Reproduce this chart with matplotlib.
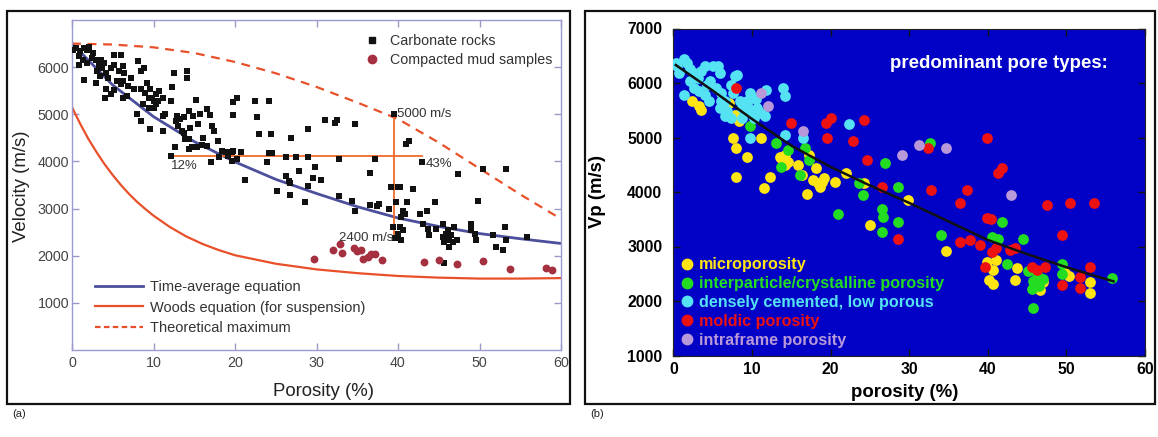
import matplotlib
matplotlib.use('Agg')
import matplotlib.pyplot as plt
from matplotlib.patches import Rectangle
from matplotlib.lines import Line2D

plt.rcParams['font.family'] = ['Liberation Sans', 'DejaVu Sans']

W, H = 1158, 437

# ---------------- panel (a): velocity vs porosity, model curves ----------------
ta_phi = [0, 5, 10, 15, 20, 25, 30, 35, 40, 45, 50, 55, 60]
ta_vel = [6500, 5620, 4950, 4420, 3990, 3620, 3320, 3040, 2800, 2620, 2470, 2360, 2260]

woods_phi = [0, 1, 2, 3, 4, 5, 6, 7, 8, 9, 10, 12, 14, 16, 18, 20, 25, 30, 35, 40, 45, 50, 55, 60]
woods_vel = [5150, 4800, 4480, 4200, 3940, 3710, 3500, 3310, 3140, 2990, 2850, 2610, 2410, 2250,
             2120, 2010, 1830, 1710, 1630, 1570, 1535, 1515, 1515, 1525]

tmax_phi = [0, 5, 10, 15, 20, 25, 30, 35, 40, 45, 50, 55, 60]
tmax_vel = [6500, 6480, 6420, 6300, 6110, 5870, 5580, 5250, 4900, 4400, 3850, 3300, 2780]

carb_phi = [0.1, 0.5, 1.0, 1.5, 1.8, 2.1, 0.9, 1.3, 0.8, 1.9, 2.4, 2.6, 2.9, 3.3, 3.5, 3.7, 3.9,
            3.1, 3.4, 4.2, 4.4, 4.8, 5.1, 5.2, 5.8, 6.2, 6.4, 6.0, 5.5, 6.0, 5.1, 4.2, 3.0, 1.5,
            4.0, 4.8, 6.2, 6.7, 6.2, 6.9, 7.3, 7.6, 8.1, 8.5, 8.8, 9.2, 8.5, 8.9, 9.4, 9.6, 9.8,
            10.1, 10.3, 10.3, 10.1, 10.5, 10.7, 11.2, 11.4, 11.2, 9.4, 8.7, 8.0, 8.5, 9.6, 11.2,
            12.5, 12.3, 12.2, 14.1, 14.1, 15.2, 14.4, 14.8, 15.7, 16.6, 16.9, 17.2, 17.4, 16.1,
            15.5, 14.5, 13.7, 13.2, 12.9, 13.0, 13.5, 12.6, 13.9, 14.4, 14.7, 13.8, 12.8, 12.1,
            14.4, 15.3, 15.9, 16.6, 17.1, 17.9, 18.4, 18.0, 18.9, 19.1, 19.6, 19.8, 20.3, 19.6,
            20.7, 21.2, 19.7, 20.3, 19.7, 22.5, 22.7, 23.0, 24.2, 24.4, 24.2, 23.9, 24.5, 25.2,
            26.3, 26.3, 26.6, 26.8, 26.8, 26.9, 27.5, 27.9, 28.6, 28.9, 29.0, 29.0, 29.6, 29.8,
            30.6, 31.1, 32.3, 32.5, 32.7, 32.8, 34.7, 34.4, 34.7, 36.6, 36.6, 37.2, 37.4, 37.7,
            38.9, 39.2, 39.4, 39.5, 39.6, 40.0, 39.8, 40.2, 40.4, 40.6, 40.4, 40.9, 41.1, 40.2,
            40.0, 40.6, 41.0, 41.3, 41.9, 42.7, 42.9, 43.1, 43.6, 43.8, 43.7, 44.6, 44.7, 45.5,
            45.5, 45.6, 45.9, 46.1, 46.2, 46.3, 46.5, 46.8, 46.9, 47.2, 47.4, 49.0, 49.0, 49.5,
            49.6, 49.8, 50.4, 51.7, 52.0, 52.9, 53.1, 53.3, 53.2, 55.8, 45.6]
carb_vel = [6373, 6408, 6338, 6408, 6373, 6422, 6232, 6162, 6056, 6092, 6197, 6303, 6141, 6056,
            6162, 5986, 6092, 5916, 5810, 5880, 5775, 5986, 6056, 6268, 5916, 6021, 5880, 6268,
            5704, 5634, 5507, 5528, 5669, 5725, 5352, 5423, 5704, 5388, 5352, 5599, 5775, 5528,
            6127, 5916, 5986, 5669, 5528, 5458, 5352, 5528, 5352, 5282, 5423, 5211, 5141, 5282,
            5493, 5352, 5000, 4965, 5141, 5211, 5000, 4860, 4683, 4648, 5880, 5578, 5282, 5916,
            5775, 5296, 5071, 4965, 5000, 5106, 4979, 4754, 4648, 4493, 4789, 4719, 4613, 4895,
            4965, 4754, 4648, 4296, 4486, 4486, 4296, 4944, 4860, 4106, 4261, 4296, 4353, 4332,
            3980, 4437, 4226, 4085, 4191, 4120, 4191, 4226, 4050, 4001, 4191, 3613, 5261, 5352,
            4979, 5282, 4944, 4578, 5282, 4578, 4177, 3980, 4170, 3381, 4085, 3698, 3592, 3536,
            3290, 4493, 4085, 3789, 3135, 3473, 4683, 4085, 3649, 3874, 3606, 4874, 4824, 4874,
            3276, 4050, 4789, 3170, 2959, 3754, 3085, 4050, 3064, 3100, 2994, 3452, 2607, 5000,
            2381, 3452, 3135, 3452, 2333, 2959, 2818, 2888, 3135, 2607, 2466, 2536, 4367, 4437,
            3416, 2888, 3980, 2677, 2959, 2431, 2572, 3135, 2572, 2677, 2396, 2290, 2466, 2536,
            2333, 2184, 2431, 2290, 2607, 2333, 3733, 2677, 2536, 2466, 2333, 3170, 3839, 2431,
            2184, 2114, 2607, 3839, 2333, 2396, 1853]

mud_phi = [29.7, 32.0, 32.9, 33.1, 34.6, 35.0, 35.5, 35.7, 36.3, 36.7, 37.2, 38.0, 43.2, 45.0,
           47.2, 50.4, 53.8, 58.2, 58.9]
mud_vel = [1930, 2120, 2250, 2060, 2160, 2090, 2120, 1940, 1980, 2030, 2040, 1900, 1870, 1910,
           1820, 1890, 1710, 1750, 1690]

cross_phi = [12.1, 43.0]
cross_vel_level = 4110
cut_phi = 39.5
cut_vel = [2400, 5000]

# ---------------- panel (b): Vp vs porosity by pore type ----------------
micro_phi = [2.4, 3.3, 3.5, 7.1, 7.8, 8.3, 7.6, 8.0, 9.4, 11.1, 8.0, 12.3, 11.5, 13.7, 14.2, 15.8,
             16.3, 17.0, 17.2, 18.2, 17.7, 18.4, 18.7, 18.9, 19.1, 20.5, 21.9, 24.3, 25.0, 29.8,
             34.7, 39.9, 40.2, 40.6, 41.1, 40.7, 43.5, 43.7, 46.6, 47.0, 49.8, 50.3, 53.0, 53.0,
             14.2, 14.6, 13.5]
micro_vel = [5665, 5572, 5511, 5634, 5419, 5296, 4988, 4803, 4649, 4988, 4280, 4280, 4065, 4618,
             4495, 4495, 4311, 3972, 4680, 4434, 4218, 4157, 4095, 4188, 4249, 4188, 4342, 4157,
             3388, 3849, 2926, 2711, 2385, 2311, 2752, 2569, 2385, 2600, 2202, 2342, 2519, 2465,
             2354, 2152, 4680, 4557, 4649]

inter_phi = [9.7, 13.0, 13.7, 14.6, 16.1, 16.8, 17.2, 21.0, 23.6, 24.1, 26.5, 26.7, 26.5, 26.9,
             28.6, 28.6, 32.7, 34.1, 40.5, 41.3, 41.8, 42.4, 44.5, 45.1, 45.6, 45.7, 46.5, 47.0,
             45.8, 49.4, 49.4, 55.8, 46.3]
inter_vel = [5203, 4895, 4465, 4772, 4311, 4803, 4588, 3603, 4157, 3941, 3695, 3541, 3264, 4526,
             4095, 3455, 4895, 3211, 3180, 3141, 3455, 2679, 3132, 2557, 2218, 1877, 2280, 2403,
             2372, 2679, 2495, 2417, 2495]

dense_phi = [0.3, 0.5, 0.7, 1.4, 1.7, 2.1, 2.6, 3.1, 3.5, 4.0, 4.3, 2.1, 1.3, 2.6, 3.3, 4.7, 5.0,
             5.7, 5.9, 5.4, 6.1, 6.6, 6.8, 5.9, 4.5, 4.0, 7.3, 7.8, 8.5, 9.4, 9.7, 10.2, 10.6,
             11.1, 11.6, 10.2, 8.7, 7.3, 6.6, 9.4, 11.8, 13.9, 14.2, 9.7, 14.2, 16.5, 22.4, 7.6,
             6.1, 8.7, 8.1, 9.7, 10.5]
dense_vel = [6372, 6311, 6188, 6434, 6372, 6249, 6188, 6095, 6218, 6311, 5972, 6034, 5780, 5911,
             5849, 6034, 6311, 6311, 6188, 5911, 5818, 5665, 5480, 5542, 5665, 5788, 5972, 6126,
             5665, 5665, 5480, 5726, 5542, 5449, 5388, 5357, 5357, 5357, 5388, 5603, 5880, 5911,
             5757, 4988, 5049, 4988, 5246, 5818, 5665, 5542, 6150, 5810, 5700]

moldic_phi = [8.0, 14.9, 19.4, 20.1, 19.6, 22.9, 24.3, 24.6, 26.5, 28.6, 32.4, 32.8, 36.5, 37.3,
              36.5, 37.7, 39.0, 39.9, 40.4, 39.9, 41.3, 41.8, 40.5, 41.1, 39.6, 42.8, 43.5, 45.6,
              46.2, 47.3, 47.5, 49.5, 49.5, 50.5, 51.7, 51.7, 53.5, 53.0]
moldic_vel = [5911, 5265, 5265, 5357, 4988, 4939, 5326, 4588, 4095, 3132, 4803, 4034, 3793, 4034,
              3088, 3119, 3028, 3517, 3511, 4988, 4342, 4434, 2905, 2967, 2630, 2936, 2967, 2630,
              2569, 2630, 3761, 3211, 2294, 3793, 2446, 2233, 3793, 2630]

intra_phi = [11.1, 12.0, 16.5, 29.1, 31.2, 34.7, 43.0]
intra_vel = [5818, 5572, 5111, 4680, 4865, 4803, 3941]

fit_phi = [0.3, 5, 10, 15, 20, 25, 30, 35, 40, 45, 50, 56]
fit_vel = [6330, 5860, 5340, 4850, 4460, 4120, 3800, 3460, 3120, 2860, 2620, 2360]

pore_types = ['microporosity', 'interparticle/crystalline porosity', 'densely cemented, low porous',
              'moldic porosity', 'intraframe porosity']
pore_colors = ['#ffe414', '#22dd22', '#55e2f2', '#ee1111', '#b898d8']


def fig_box(x0, y0, x1, y1):
    # pixel box (top-left origin) -> figure-fraction rectangle
    return [x0 / W, 1 - y1 / H, (x1 - x0) / W, (y1 - y0) / H]


fig = plt.figure(figsize=(W / 100, H / 100), dpi=100)

# outer frames of the two panels
for x0, x1 in [(7, 570), (585, 1155)]:
    b = fig_box(x0, 11, x1, 404)
    fig.add_artist(Rectangle((b[0], b[1]), b[2], b[3], fill=False, ec='#111111', lw=1.6,
                             transform=fig.transFigure))
fig.text(12 / W, 1 - 414 / H, '(a)', fontsize=8, color='#222222', va='center')
fig.text(590 / W, 1 - 414 / H, '(b)', fontsize=8, color='#222222', va='center')

# ---- left panel ----
ax1 = fig.add_axes(fig_box(72, 20, 561, 350))
ax1.set_xlim(0, 60)
ax1.set_ylim(0, 7000)
ax1.plot(ta_phi, ta_vel, color='#4b4f9c', lw=2.0, zorder=2)
ax1.plot(woods_phi, woods_vel, color='#e8502a', lw=1.6, zorder=2)
ax1.plot(tmax_phi, tmax_vel, color='#e8502a', lw=1.6, ls=(0, (4, 3)), zorder=2)
ax1.plot(cross_phi, [cross_vel_level, cross_vel_level], color='#f26a2a', lw=1.3, zorder=2)
ax1.plot([cut_phi, cut_phi], cut_vel, color='#f26a2a', lw=1.3, zorder=2)
ax1.scatter(carb_phi, carb_vel, marker='s', s=18, c='#111111', lw=0, zorder=3)
ax1.scatter(mud_phi, mud_vel, marker='o', s=32, c='#a5303f', lw=0, zorder=3)

ann = dict(fontsize=9.5, color='#333333', va='center')
ax1.text(cut_phi + 0.4, cut_vel[1], '5000 m/s', ha='left', **ann)
ax1.text(cut_phi - 0.1, cut_vel[0] - 30, '2400 m/s', ha='right', **ann)
ax1.text(cross_phi[0] + 0.1, cross_vel_level - 210, '12%', ha='left', **ann)
ax1.text(cross_phi[1] + 0.4, cross_vel_level - 170, '43%', ha='left', **ann)

ax1.set_xticks(range(0, 61, 10))
ax1.set_yticks(range(1000, 6001, 1000))
ax1.tick_params(direction='in', top=True, right=True, length=5, width=1, color='#9a9ac8',
                labelcolor='#444444', labelsize=10.3)
ax1.tick_params(axis='y', pad=2)
ax1.tick_params(axis='x', pad=4)
for s in ax1.spines.values():
    s.set_color('#9a9ad0')
    s.set_linewidth(1)
ax1.set_xlabel('Porosity (%)', fontsize=13.4, color='#222222', va='center')
ax1.xaxis.set_label_coords(0.515, -0.127)
ax1.set_ylabel('Velocity (m/s)', fontsize=13.4, color='#222222', va='center')
ax1.yaxis.set_label_coords(-0.104, 0.495)

h_carb = Line2D([], [], marker='s', ls='none', color='#111111', markersize=4.5)
h_mud = Line2D([], [], marker='o', ls='none', color='#a5303f', markersize=6)
leg1 = ax1.legend([h_carb, h_mud], ['Carbonate rocks', 'Compacted mud samples'],
                  loc='upper right', bbox_to_anchor=(0.982, 0.958), frameon=False,
                  fontsize=10.3, labelcolor='#333333', handlelength=1.0, handletextpad=0.75,
                  borderpad=0, borderaxespad=0, labelspacing=0.38)
ax1.add_artist(leg1)
h_ta = Line2D([], [], color='#4b4f9c', lw=2.0)
h_wd = Line2D([], [], color='#e8502a', lw=1.6)
h_tm = Line2D([], [], color='#e8502a', lw=1.6, ls=(0, (2.5, 1.5)))
ax1.legend([h_ta, h_wd, h_tm],
           ['Time-average equation', 'Woods equation (for suspension)', 'Theoretical maximum'],
           loc='upper left', bbox_to_anchor=(0.047, 0.212), frameon=False, fontsize=10.5,
           labelcolor='#333333', handlelength=3.3, handletextpad=0.48, borderpad=0,
           borderaxespad=0, labelspacing=0.45)

# ---- right panel ----
ax2 = fig.add_axes(fig_box(673.4, 28.5, 1145, 355.5))
ax2.set_facecolor('#0202c6')
ax2.set_xlim(0, 60)
ax2.set_ylim(1000, 7000)
groups = [(micro_phi, micro_vel), (inter_phi, inter_vel), (dense_phi, dense_vel),
          (moldic_phi, moldic_vel), (intra_phi, intra_vel)]
for (px, vy), col in zip(groups, pore_colors):
    ax2.scatter(px, vy, s=60, c=col, lw=0, zorder=3)
ax2.plot(fit_phi, fit_vel, color='#111111', lw=1.8, zorder=4)

ax2.text(0.459, 0.894, 'predominant pore types:', transform=ax2.transAxes, color='white',
         fontsize=13.4, fontweight='bold', va='center', ha='left')

ax2.set_xticks(range(0, 61, 10))
ax2.set_yticks(range(1000, 7001, 1000))
ax2.tick_params(direction='in', top=True, right=True, length=5, width=1, color='#111111',
                labelsize=11.3)
ax2.tick_params(axis='y', pad=8)
ax2.tick_params(axis='x', pad=4.5)
for lab in ax2.get_xticklabels() + ax2.get_yticklabels():
    lab.set_fontweight('bold')
for s in ax2.spines.values():
    s.set_color('#222222')
ax2.set_xlabel('porosity (%)', fontsize=13.4, fontweight='bold', va='center')
ax2.xaxis.set_label_coords(0.491, -0.113)
ax2.set_ylabel('Vp (m/s)', fontsize=13.4, fontweight='bold', va='center')
ax2.yaxis.set_label_coords(-0.162, 0.5)

pore_handles = [Line2D([], [], marker='o', ls='none', color=c, markersize=7.5) for c in pore_colors]
ax2.legend(pore_handles, pore_types, loc='upper left', bbox_to_anchor=(0.0145, 0.30),
           frameon=False, prop={'weight': 'bold', 'size': 11.6}, labelcolor=pore_colors,
           handlelength=0.8, handletextpad=0.38, borderpad=0, borderaxespad=0,
           labelspacing=0.24)

fig.savefig('out.png', dpi=100)
